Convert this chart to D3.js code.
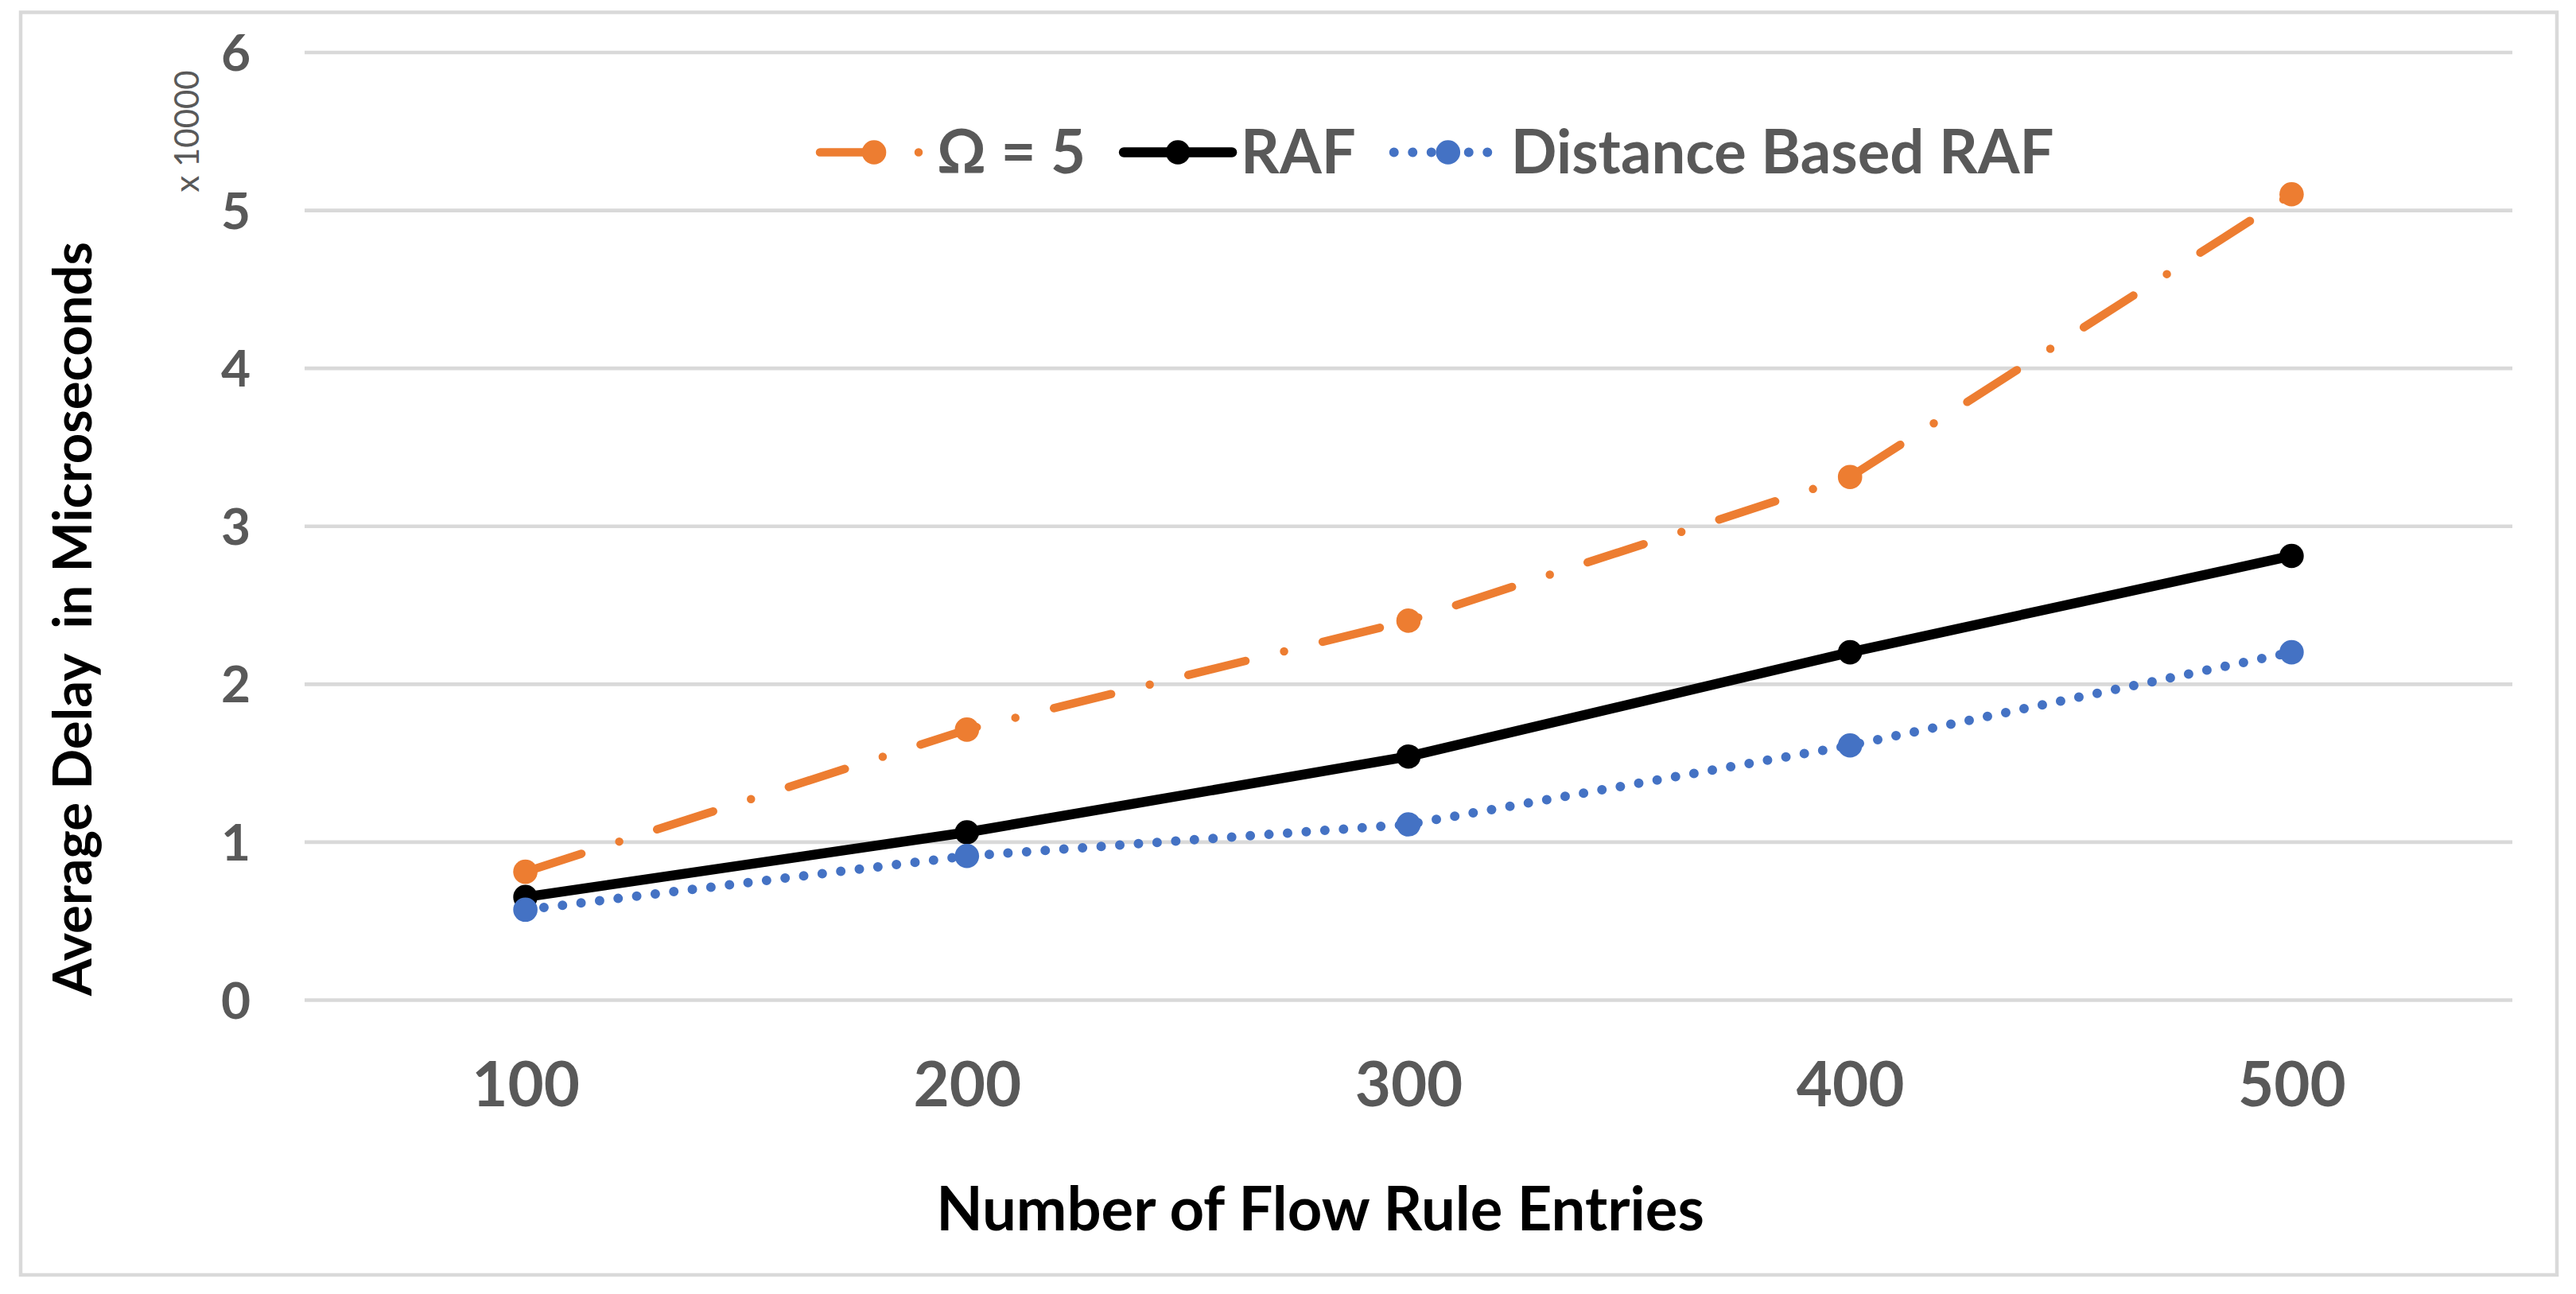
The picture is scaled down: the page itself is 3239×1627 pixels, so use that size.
<!DOCTYPE html>
<html><head><meta charset="utf-8">
<script src="https://cdn.jsdelivr.net/npm/d3@7"></script>
<style>
body{margin:0;background:#fff}
svg{display:block}
text{font-family:Lato,"Open Sans",sans-serif}
</style>
</head><body>
<svg id="c" width="3239" height="1627"></svg>
<script>
// ---- data ----
const categories = ["100", "200", "300", "400", "500"];
const omega5 = [0.81, 1.71, 2.40, 3.31, 5.10];
const raf = [0.65, 1.06, 1.54, 2.20, 2.81];
const distanceRaf = [0.57, 0.91, 1.11, 1.61, 2.20];
const yTickValues = [0, 1, 2, 3, 4, 5, 6];
const seriesNames = ["Ω = 5", "RAF", "Distance Based RAF"];
const xTitle = "Number of Flow Rule Entries";
const yTitle = "Average Delay  in Microseconds";
const unitLabel = "x 10000";

// ---- layout ----
const svg = d3.select("#c");
const plot = {left: 383, right: 3159, top: 65.5, bottom: 1257};
const gridColor = "#d9d9d9", textGray = "#595959";

svg.append("rect").attr("x", 26).attr("y", 15.5)
  .attr("width", 3215 - 26).attr("height", 1603 - 15.5)
  .attr("fill", "#fff").attr("stroke", gridColor).attr("stroke-width", 4.5);

const x = d3.scalePoint().domain(categories).range([plot.left, plot.right]).padding(0.5);
const y = d3.scaleLinear().domain([0, 6]).range([plot.bottom, plot.top]);

// gridlines + y labels
const yAxis = d3.axisLeft(y).tickValues(yTickValues).tickSize(-(plot.right - plot.left)).tickPadding(68).tickFormat(d3.format("d"));
const gy = svg.append("g").attr("transform", `translate(${plot.left},0)`).call(yAxis);
gy.select(".domain").remove();
gy.selectAll(".tick line").attr("stroke", gridColor).attr("stroke-width", 4.7);
gy.selectAll(".tick text").attr("fill", textGray).attr("font-size", 64).attr("font-weight", 700)
  .attr("font-family", "Lato").attr("dy", "0.36em");

// x labels
const xAxis = d3.axisBottom(x).tickSize(0).tickPadding(0);
const gx = svg.append("g").attr("transform", `translate(0,${1391})`).call(xAxis);
gx.select(".domain").remove();
gx.selectAll(".tick text").attr("fill", textGray).attr("font-size", 78).attr("font-weight", 700)
  .attr("font-family", "Lato").attr("dy", 0).attr("y", 0);

// titles
svg.append("text").text(xTitle).attr("x", 1660).attr("y", 1547).attr("text-anchor", "middle")
  .attr("font-size", 76).attr("font-weight", 700).attr("fill", "#000");
svg.append("text").text(yTitle).style("white-space", "pre")
  .attr("transform", "translate(115,778) rotate(-90)").attr("text-anchor", "middle")
  .attr("font-size", 67).attr("font-weight", 700).attr("fill", "#000");
svg.append("text").text(unitLabel)
  .attr("transform", "translate(250,165) rotate(-90)").attr("text-anchor", "middle")
  .attr("font-size", 42).attr("fill", textGray);

// series
const series = [
  {name: seriesNames[0], values: omega5, color: "#ED7D31", width: 10.5, dash: "74,50,0,50"},
  {name: seriesNames[1], values: raf, color: "#000000", width: 12.5, dash: null},
  {name: seriesNames[2], values: distanceRaf, color: "#4472C4", width: 12, dash: "0,23.5"}
];
const R = 15.3;
const line = d3.line().x((d, i) => x(categories[i])).y(d => y(d));
series.forEach(s => {
  const g = svg.append("g");
  g.append("path").datum(s.values).attr("d", line).attr("fill", "none")
    .attr("stroke", s.color).attr("stroke-width", s.width)
    .attr("stroke-linecap", "round").attr("stroke-linejoin", "round")
    .attr("stroke-dasharray", s.dash);
  g.selectAll("circle").data(s.values).join("circle")
    .attr("cx", (d, i) => x(categories[i])).attr("cy", d => y(d)).attr("r", R)
    .attr("fill", s.color);
});

// legend
const legendY = 191.5, sampleW = 136, textGap = 11, itemGap = 48;
const lg = svg.append("g").attr("transform", "translate(1031,0)");
let cursor = 0;
series.forEach(s => {
  const it = lg.append("g").attr("transform", `translate(${cursor},0)`);
  it.append("line").attr("x1", 0).attr("x2", sampleW).attr("y1", legendY).attr("y2", legendY)
    .attr("stroke", s.color).attr("stroke-width", s.width).attr("stroke-linecap", "round")
    .attr("stroke-dasharray", s.dash);
  it.append("circle").attr("cx", sampleW / 2).attr("cy", legendY).attr("r", R).attr("fill", s.color);
  const t = it.append("text").text(s.name).attr("x", sampleW + textGap).attr("y", legendY + 26)
    .attr("font-size", 76).attr("font-weight", 700).attr("fill", textGray);
  cursor += sampleW + textGap + t.node().getComputedTextLength() + itemGap;
});
</script>
</body></html>
